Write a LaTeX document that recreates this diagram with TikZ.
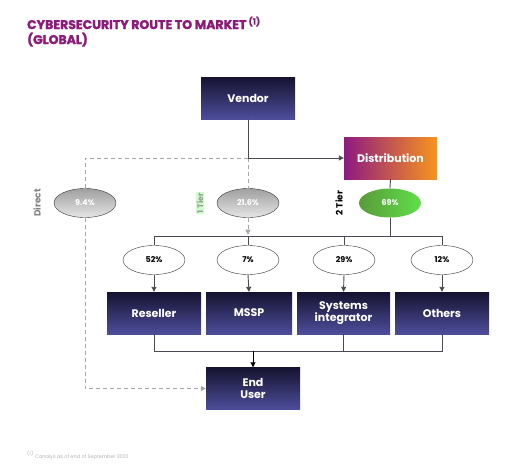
\documentclass[tikz,border=0pt]{standalone}
\usepackage{fontspec}
\setmainfont{Poppins}
\newfontfamily\titlefont[BoldFeatures={FakeBold=1.8}]{Poppins}
\usetikzlibrary{arrows.meta,shapes.geometric}
\definecolor{title}{HTML}{8C1A7C}
\definecolor{boxtop}{HTML}{15132F}
\definecolor{boxbot}{HTML}{4D4D9B}
\definecolor{distl}{HTML}{8E1A80}
\definecolor{distr}{HTML}{F8941D}
\definecolor{lineg}{HTML}{4A4A55}
\definecolor{greenl}{HTML}{5A9A3A}
\definecolor{greenr}{HTML}{5EE04A}
\tikzset{
  box/.style={top color=boxtop, bottom color=boxbot, minimum width=94pt, minimum height=42pt,
    text=white, align=center, font=\fontsize{11}{12}\selectfont\bfseries, inner sep=1pt},
  share/.style={ellipse, draw=black!80, minimum width=62pt, minimum height=29pt,
    font=\fontsize{8}{9}\selectfont\bfseries, inner sep=0pt},
  solid line/.style={draw=lineg, line width=0.9pt},
  tip/.style={-{Triangle[length=5pt,width=5pt]}},
  direct/.style={draw=gray!70, dashed, line width=0.8pt, dash pattern=on 4pt off 3pt},
}
\begin{document}
\begin{tikzpicture}[x=1pt,y=-1pt]
\useasboundingbox (0,0) rectangle (522,475);
\node[anchor=base west, text=title, font=\titlefont\fontsize{12.5}{13}\selectfont\bfseries, inner sep=0pt] (title) at (27,29) {CYBERSECURITY ROUTE TO MARKET\,\textsuperscript{(1)}};
\node[anchor=base west, text=title, font=\titlefont\fontsize{12.5}{13}\selectfont\bfseries, inner sep=0pt] (subtitle) at (27,44) {(GLOBAL)};

\node[box] (vendor) at (248,98) {Vendor};
\node[box, left color=distl, right color=distr, minimum width=93pt] (distribution) at (390.5,158) {Distribution};

\node[share, top color=gray!75, bottom color=gray!20, text=white] (direct) at (85,203) {9.4\%};
\node[share, top color=gray!75, bottom color=gray!20, text=white] (tier1) at (248,203) {21.6\%};
\node[share, draw=none, left color=greenl, right color=greenr, text=white] (tier2) at (390,203) {69\%};

\node[rotate=90, text=gray, font=\fontsize{9}{10}\selectfont\bfseries] (directlbl) at (37,203) {Direct};
\node[rotate=90, text=gray!80, fill=green!20, font=\fontsize{8}{9}\selectfont\bfseries, inner sep=1pt, rounded corners=1pt] (tier1lbl) at (200,203) {1 Tier};
\node[rotate=90, text=black, font=\fontsize{9}{10}\selectfont\bfseries] (tier2lbl) at (339,203) {2 Tier};

\node[share, fill=white] (reseller share) at (154,260) {52\%};
\node[share, fill=white] (mssp share) at (248,260) {7\%};
\node[share, fill=white] (si share) at (344,260) {29\%};
\node[share, fill=white] (others share) at (442,260) {12\%};

\node[box] (reseller) at (154,313) {Reseller};
\node[box, minimum width=86pt] (mssp) at (249,313) {MSSP};
\node[box, minimum width=93pt] (si) at (343.5,313) {Systems\\integrator};
\node[box] (others) at (442,313) {Others};

\node[box] (enduser) at (253,388.5) {End\\User};

\coordinate (split) at (248,158);
\coordinate (corner) at (85,158);
\coordinate (bus) at (390,236);
\coordinate (merge) at (253,351);

\draw[direct] (split) -- (corner) -- (direct.north);
\draw[direct, tip] (direct.south) |- (enduser.west);
\draw[direct] (split) -- (tier1.north);
\draw[direct, tip] (tier1.south) -- ++(0,17);

\draw[solid line] (vendor.south) -- (split);
\draw[solid line, tip] (split) -- (distribution.west);
\draw[solid line] (distribution.south) -- (tier2.north);
\draw[solid line] (tier2.south) -- (bus);
\foreach \n in {reseller share, mssp share, si share, others share}
  \draw[solid line] (bus) -| (\n.north);
\foreach \n/\m in {reseller share/reseller, mssp share/mssp, si share/si, others share/others}
  \draw[solid line, tip] (\n.south) -- (\m.north);
\foreach \m in {reseller, si, others}
  \draw[solid line] (\m.south) |- (merge);
\draw[solid line, tip, draw=black] (merge) -- (enduser.north);

\node[anchor=base west, text=gray!60, font=\fontsize{5}{6}\selectfont, inner sep=0pt] (note) at (27,458) {\textsuperscript{(1)} Canalys as of end of September 2022};
\end{tikzpicture}
\end{document}
